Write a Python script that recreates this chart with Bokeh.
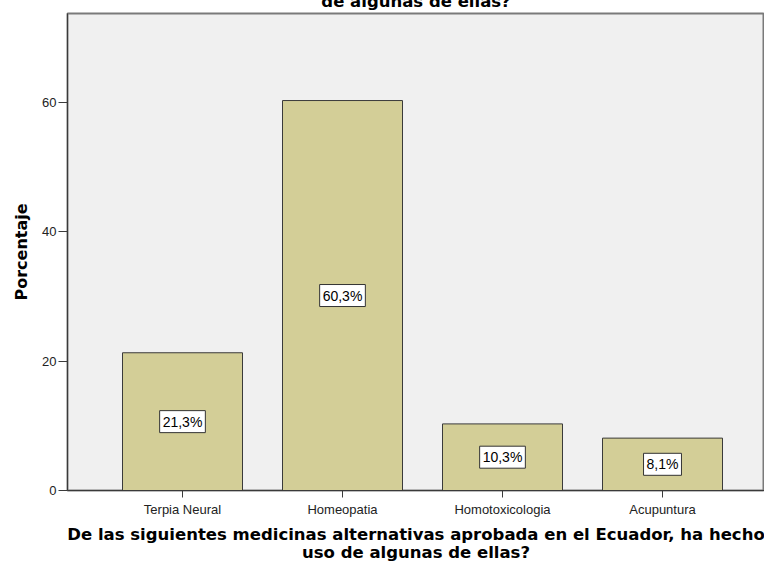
from bokeh.plotting import figure
from bokeh.models import FixedTicker, Range1d, Title, ColumnDataSource
from bokeh.core.properties import value
from bokeh.embed import file_html
from bokeh.resources import INLINE

categories = ["Terpia Neural", "Homeopatia", "Homotoxicologia", "Acupuntura"]
percent = [21.3, 60.3, 10.3, 8.1]
y_ticks = [0, 20, 40, 60]
x_title = "De las siguientes medicinas alternativas aprobada en el Ecuador, ha hecho\nuso de algunas de ellas?"
top_title_tail = "de algunas de ellas?"
y_title = "Porcentaje"

xs = [i + 0.5 for i in range(len(categories))]
labels = [("%.1f" % v).replace(".", ",") + "%" for v in percent]
src = ColumnDataSource(dict(x=xs, top=percent, mid=[v / 2 for v in percent], lab=labels))

SHIFT = 30  # part of the figure that sits above the visible window

p = figure(width=764, height=564 + SHIFT, output_backend="svg", toolbar_location=None,
           x_range=Range1d(-0.21875, 4.1375), y_range=Range1d(0, 73.76),
           min_border_left=67, min_border_right=0, min_border_top=13 + SHIFT,
           min_border_bottom=74,
           styles={"position": "absolute", "top": "-%dpx" % SHIFT, "left": "0px"})
p.background_fill_color = "#F0F0F0"
p.border_fill_color = "white"
p.outline_line_color = "#7a7a7a"
p.outline_line_width = 2
p.grid.visible = False

p.vbar(x="x", top="top", width=0.75, source=src, fill_color="#D3CE97",
       line_color="#3a3a3a", line_width=1)
p.text(x="x", y="mid", text="lab", source=src, text_align="center", text_baseline="middle",
       text_font=value("Liberation Sans"), text_font_size="14px", text_color="black",
       background_fill_color="white", border_line_color="#333333", border_line_width=1,
       padding=3)

fam = "Liberation Sans"
bold_fam = "DejaVu Sans"

p.yaxis.ticker = FixedTicker(ticks=y_ticks)
p.yaxis.minor_tick_line_color = None
p.yaxis.major_tick_in = 0
p.yaxis.major_tick_out = 9
p.yaxis.major_label_standoff = 2
p.yaxis.axis_line_color = "#3a3a3a"
p.yaxis.major_tick_line_color = "#3a3a3a"
p.yaxis.major_label_text_font = fam
p.yaxis.major_label_text_font_size = "13px"
p.yaxis.major_label_text_color = "#222222"
p.yaxis.axis_label = y_title
p.yaxis.axis_label_text_font = bold_fam
p.yaxis.axis_label_text_font_style = "bold"
p.yaxis.axis_label_text_font_size = "16px"
p.yaxis.axis_label_text_color = "black"
p.yaxis.axis_label_standoff = 8

p.xaxis.ticker = FixedTicker(ticks=xs)
p.xaxis.major_label_overrides = {x: c for x, c in zip(xs, categories)}
p.xaxis.minor_tick_line_color = None
p.xaxis.major_tick_in = 0
p.xaxis.major_tick_out = 7
p.xaxis.major_label_standoff = 4
p.xaxis.axis_line_color = "#3a3a3a"
p.xaxis.major_tick_line_color = "#3a3a3a"
p.xaxis.major_label_text_font = fam
p.xaxis.major_label_text_font_size = "13px"
p.xaxis.major_label_text_color = "#222222"
p.xaxis.axis_label = x_title
p.xaxis.axis_label_text_font = bold_fam
p.xaxis.axis_label_text_font_style = "bold"
p.xaxis.axis_label_text_font_size = "16.5px"
p.xaxis.axis_label_text_color = "black"
p.xaxis.axis_label_text_line_height = 0.95
p.xaxis.axis_label_standoff = 5

top_title = Title(text=top_title_tail, align="center", standoff=6,
                  text_font=bold_fam, text_font_style="bold", text_font_size="16.5px",
                  text_color="black")
p.add_layout(top_title, "above")

open("out.html", "w").write(file_html(p, INLINE))
